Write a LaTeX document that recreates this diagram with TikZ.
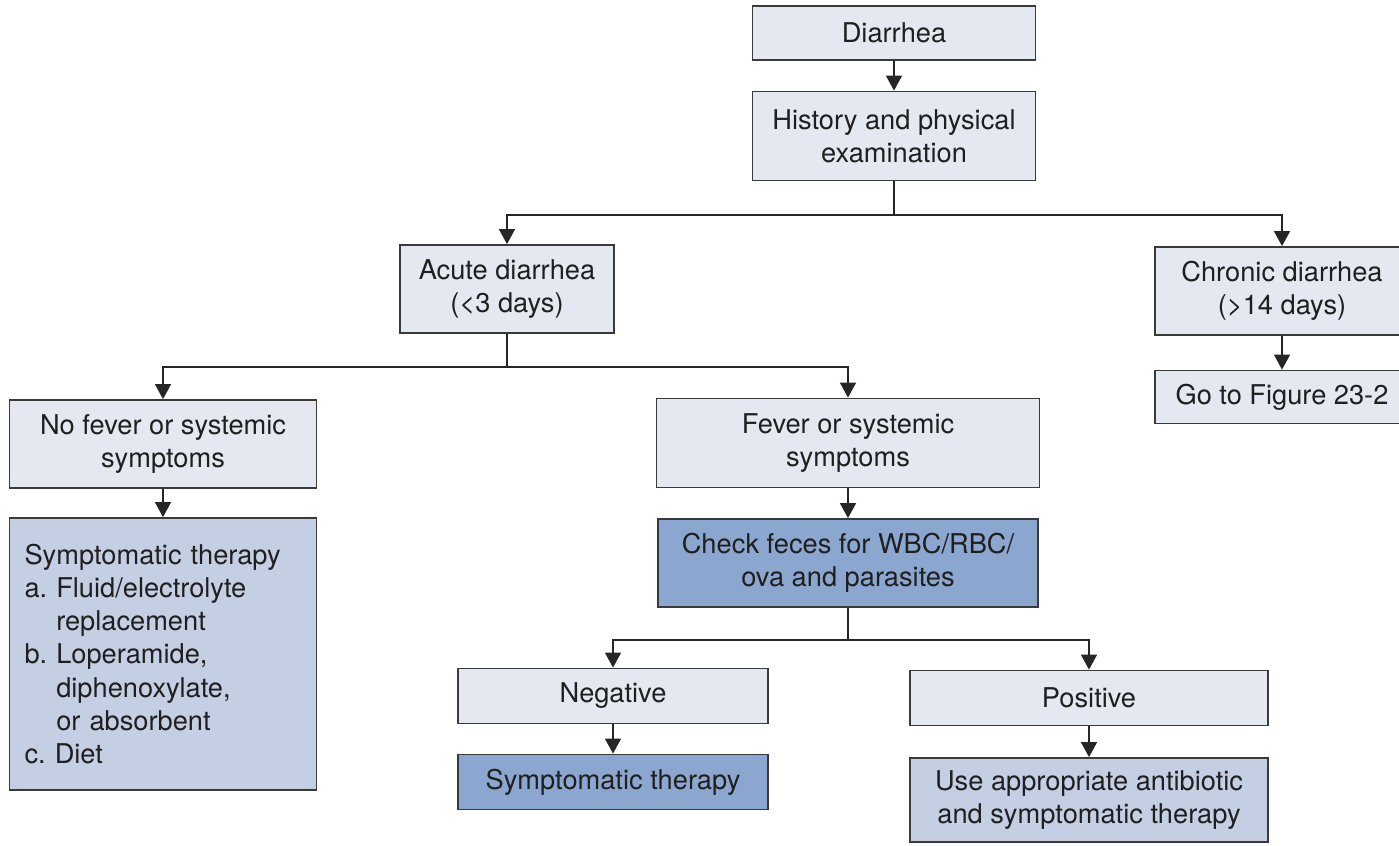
\documentclass[tikz,border=0pt]{standalone}
\usepackage{fontspec}
\setmainfont{TeX Gyre Heros}
\usetikzlibrary{arrows.meta}

\definecolor{boxlight}{HTML}{E4E8F1}
\definecolor{boxmid}{HTML}{C5CFE4}
\definecolor{boxdark}{HTML}{8CA7CF}
\definecolor{edgegray}{HTML}{3A3A3A}

\begin{document}
\begin{tikzpicture}[
  x=0.02cm,
  y=-0.02cm,
  box/.style={draw=edgegray, line width=1pt, text=black!88,
    font=\fontsize{15.5}{18.8}\selectfont\frenchspacing, align=center, inner sep=0pt},
  light/.style={box, fill=boxlight},
  mid/.style={box, fill=boxmid},
  dark/.style={box, fill=boxdark},
  arr/.style={-{Triangle[width=9pt,length=8.5pt]}, draw=black!85, line width=1pt},
  link/.style={draw=black!85, line width=1pt}
]
\def\px{0.02cm}

\useasboundingbox (0,0) rectangle (1399,845);
\clip (0,0) rectangle (1399,845);

%--------------------
% Inicio
%--------------------
\node[light, minimum width=283*\px, minimum height=54*\px] (diar) at (894,33) {Diarrhea};
\node[light, minimum width=283*\px, minimum height=89*\px] (hist) at (894,136)
  {History and physical\\examination};

%--------------------
% Agudo / cronico
%--------------------
\node[light, minimum width=214*\px, minimum height=88*\px] (acute) at (507,289)
  {Acute diarrhea\\(<3 days)};
\node[light, minimum width=254*\px, minimum height=88*\px] (chron) at (1282,291)
  {Chronic diarrhea\\(>14 days)};
\node[light, minimum width=254*\px, minimum height=53*\px] (gofig) at (1282,397)
  {Go to Figure 23-2};

%--------------------
% Fiebre
%--------------------
\node[light, minimum width=307*\px, minimum height=88*\px] (nofev) at (163,444)
  {No fever or systemic\\symptoms};
\node[light, minimum width=383*\px, minimum height=89*\px] (fever) at (848,443)
  {Fever or systemic\\symptoms};
\node[mid, minimum height=272*\px, text width=277*\px, inner xsep=15*\px, align=left] (symp) at (163,654)
  {Symptomatic therapy\\
   a. Fluid/electrolyte\\
   \hphantom{a. }replacement\\
   b. Loperamide,\\
   \hphantom{b. }diphenoxylate,\\
   \hphantom{b. }or absorbent\\
   c. Diet};
\node[dark, minimum width=380*\px, minimum height=88*\px] (check) at (848,563)
  {Check feces for WBC/RBC/\\ova and parasites};

%--------------------
% Resultado
%--------------------
\node[light, minimum width=310*\px, minimum height=55*\px] (neg) at (613,696) {Negative};
\node[dark, minimum width=310*\px, minimum height=55*\px] (symneg) at (613,782) {Symptomatic therapy};
\node[light, minimum width=358*\px, minimum height=55*\px] (pos) at (1089,698) {Positive};
\node[mid, minimum width=358*\px, minimum height=84*\px] (anti) at (1089,800)
  {Use appropriate antibiotic\\and symptomatic therapy};

%--------------------
% Ramas
%--------------------
\coordinate (b1) at (894,215);
\coordinate (b2) at (507,367);
\coordinate (b3) at (848,640);

\draw[link] (hist.south) -- (b1);
\draw[link] (acute.south) -- (b2);
\draw[link] (check.south) -- (b3);

\draw[arr] (b1) -| (acute.north);
\draw[arr] (b1) -| (chron.north);
\draw[arr] (b2) -| (nofev.north);
\draw[arr] (b2) -| (fever.north);
\draw[arr] (b3) -| (neg.north);
\draw[arr] (b3) -| (pos.north);

%--------------------
% Flechas verticales
%--------------------
\foreach \a/\b in {diar/hist, chron/gofig, nofev/symp, fever/check, neg/symneg, pos/anti} {
  \draw[arr] (\a.south) -- (\b.north);
}

\end{tikzpicture}
\end{document}
